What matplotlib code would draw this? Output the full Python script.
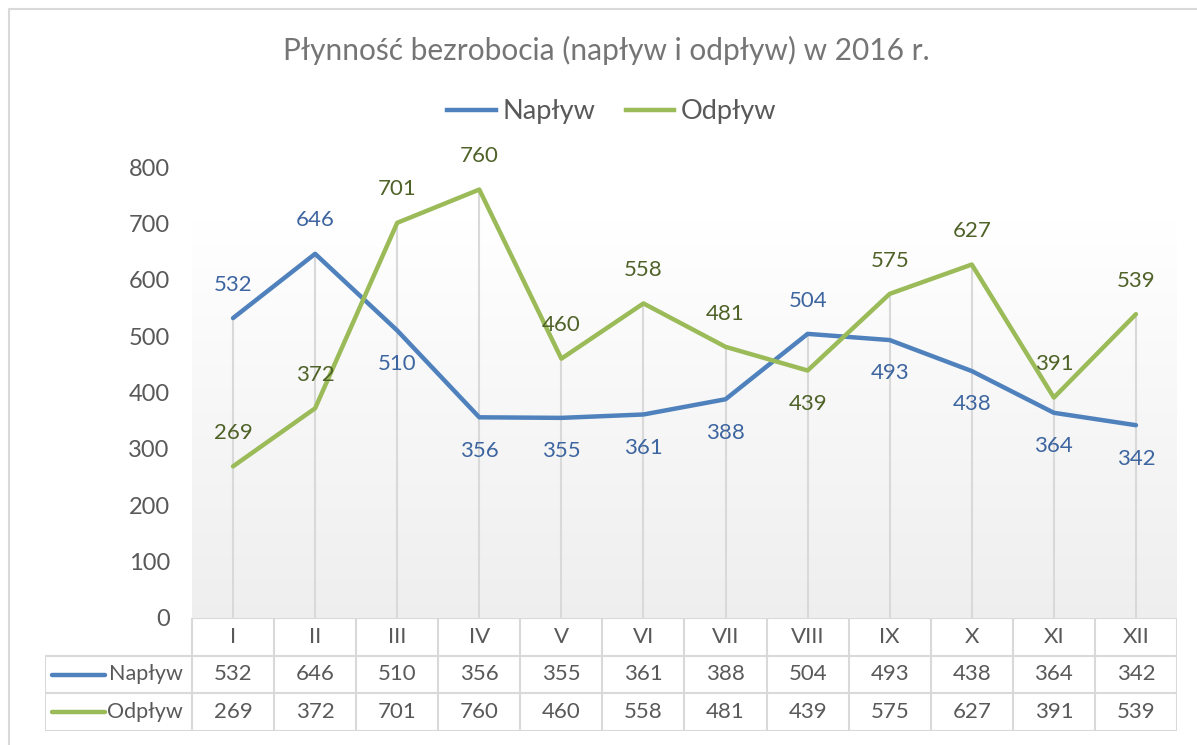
import numpy as np
import matplotlib.pyplot as plt
from matplotlib.lines import Line2D

plt.rcParams['font.family'] = ['Lato', 'DejaVu Sans']

# data
months = ['I', 'II', 'III', 'IV', 'V', 'VI', 'VII', 'VIII', 'IX', 'X', 'XI', 'XII']
naplyw = [532, 646, 510, 356, 355, 361, 388, 504, 493, 438, 364, 342]
odplyw = [269, 372, 701, 760, 460, 558, 481, 439, 575, 627, 391, 539]
series_names = ['Napływ', 'Odpływ']
title = 'Płynność bezrobocia (napływ i odpływ) w 2016 r.'

# label placement (1 = above point, -1 = below)
naplyw_side = [1, 1, -1, -1, -1, -1, -1, 1, -1, -1, -1, -1]
odplyw_side = [1, 1, 1, 1, 1, 1, 1, -1, 1, 1, 1, 1]

blue = '#4f81bd'
green = '#9bbb59'
blue_txt = '#3d65a0'
green_txt = '#4f6228'
grid_c = '#d9d9d9'
txt_c = '#595959'

W, H = 1197, 745
fig = plt.figure(figsize=(W / 100, H / 100), dpi=100)


def px(x0, y0, x1, y1):
    return [x0 / W, 1 - y1 / H, (x1 - x0) / W, (y1 - y0) / H]


# chart border
border = fig.add_axes([0, 0, 1, 1], zorder=-5)
border.set_xlim(0, W)
border.set_ylim(H, 0)
border.axis('off')
border.plot([9, 9, W + 5], [H + 5, 9, 9], color=grid_c, lw=1.5)

ax = fig.add_axes(px(192, 167, 1177, 618))
x = np.arange(len(months))
ax.set_xlim(-0.5, len(months) - 0.5)
ax.set_ylim(0, 800)

# gradient background
grad = np.linspace(0, 1, 256)
grad = np.clip((grad - 0.12) / 0.88, 0, 1)
img = np.zeros((256, 1, 3))
for i in range(3):
    img[:, 0, i] = 1.0 - grad * (1.0 - 0.935)
ax.imshow(img, extent=[-0.5, len(months) - 0.5, 0, 800], aspect='auto', zorder=0)

for s in ax.spines.values():
    s.set_visible(False)
ax.set_xticks([])
ax.set_yticks(np.arange(0, 801, 100))
ax.tick_params(axis='y', length=0, pad=16, labelsize=17, labelcolor=txt_c)

# drop lines
top = np.maximum(naplyw, odplyw)
ax.vlines(x, 0, top, color=grid_c, lw=1.5, zorder=1)

ax.plot(x, naplyw, color=blue, lw=3.2, zorder=3, solid_capstyle='round')
ax.plot(x, odplyw, color=green, lw=3.2, zorder=3, solid_capstyle='round')

for xi, v, s in zip(x, naplyw, naplyw_side):
    ax.annotate(str(v), (xi, v), xytext=(0, 24 * s), textcoords='offset points',
                ha='center', va='center', fontsize=16, color=blue_txt, annotation_clip=False)
for xi, v, s in zip(x, odplyw, odplyw_side):
    ax.annotate(str(v), (xi, v), xytext=(0, 24 * s), textcoords='offset points',
                ha='center', va='center', fontsize=16, color=green_txt, annotation_clip=False)

# title and legend
fig.text(606 / W, 1 - 50 / H, title, ha='center', va='center', fontsize=21.5, color='#757575')
handles = [Line2D([], [], color=blue, lw=3.2), Line2D([], [], color=green, lw=3.2)]
fig.legend(handles, series_names, loc='center', bbox_to_anchor=(612 / W, 1 - 112 / H), ncol=2,
           frameon=False, fontsize=19.5, labelcolor=txt_c, handlelength=1.8, handletextpad=0.25,
           columnspacing=1.1)

# data table
tab = fig.add_axes(px(45, 618, 1177, 731))
col_w = (1177 - 192) / len(months)
lab_w = (192 - 45) / col_w
tab.set_xlim(-0.5 - lab_w, len(months) - 0.5)
tab.set_ylim(3, 0)
tab.axis('off')
lw_t = 1.5
tab.hlines(0, -0.5, len(months) - 0.5, color=grid_c, lw=lw_t)
tab.hlines([1, 2, 3], -0.5 - lab_w, len(months) - 0.5, color=grid_c, lw=lw_t)
tab.vlines(np.arange(len(months) + 1) - 0.5, 0, 3, color=grid_c, lw=lw_t)
tab.vlines(-0.5 - lab_w, 1, 3, color=grid_c, lw=lw_t)

for i, m in enumerate(months):
    tab.text(i, 0.5, m, ha='center', va='center', fontsize=16, color=txt_c)
for r, (vals, col, name) in enumerate(zip([naplyw, odplyw], [blue, green], series_names)):
    for i, v in enumerate(vals):
        tab.text(i, r + 1.5, str(v), ha='center', va='center', fontsize=16, color=txt_c)
    x0 = -0.5 - lab_w
    tab.plot([x0 + 7 / col_w, x0 + 60 / col_w], [r + 1.5, r + 1.5], color=col, lw=3.2,
             solid_capstyle='round')
    tab.text(-0.5 - 9 / col_w, r + 1.5, name, ha='right', va='center', fontsize=15.5, color=txt_c)

fig.savefig('out.png', dpi=100)
